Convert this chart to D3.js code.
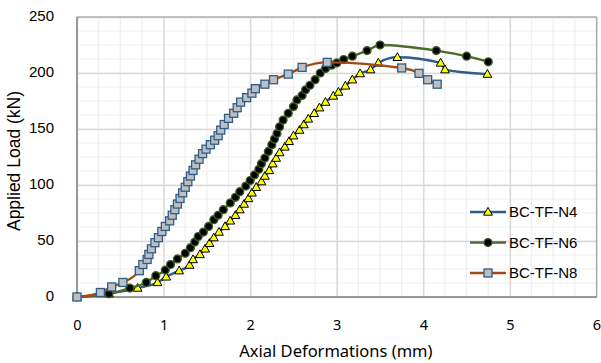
<!DOCTYPE html>
<html>
<head>
<meta charset="utf-8">
<script src="https://cdn.jsdelivr.net/npm/d3@7"></script>
<style>
  body { margin: 0; background: #fff; }
  svg { display: block; }
</style>
</head>
<body>
<div id="chart"></div>
<script>
const seriesNames = ['BC-TF-N4', 'BC-TF-N6', 'BC-TF-N8'];

// axial deformation (mm), applied load (kN)
const n4Def = [0, 0.37, 0.70, 0.93, 1.03, 1.18, 1.30, 1.34, 1.42, 1.48, 1.53, 1.58, 1.64, 1.71, 1.77, 1.83, 1.88, 1.93, 1.98, 2.02, 2.07, 2.13, 2.17, 2.22, 2.26, 2.30, 2.34, 2.40, 2.45, 2.50, 2.57, 2.62, 2.67, 2.74, 2.80, 2.87, 2.96, 3.02, 3.10, 3.18, 3.27, 3.39, 3.48, 3.70, 4.20, 4.25, 4.74];
const n4Load = [0, 3, 8, 13, 18, 23.5, 28.5, 33.5, 38, 43, 48, 53, 58, 63, 68, 73, 78, 83, 88, 93, 98, 103, 108, 113, 119, 124, 129, 134, 139, 144, 149, 154, 159, 164, 169, 174, 179.5, 183, 188.5, 194, 199.5, 203, 209, 214, 209, 203, 199];

const n6Def = [0, 0.37, 0.61, 0.80, 0.91, 1.02, 1.08, 1.16, 1.25, 1.31, 1.36, 1.40, 1.46, 1.52, 1.58, 1.63, 1.69, 1.77, 1.83, 1.88, 1.95, 2.00, 2.05, 2.10, 2.13, 2.17, 2.21, 2.25, 2.28, 2.31, 2.34, 2.38, 2.44, 2.50, 2.54, 2.60, 2.64, 2.69, 2.75, 2.81, 2.87, 2.94, 3.00, 3.08, 3.18, 3.35, 3.50, 4.15, 4.50, 4.75];
const n6Load = [0, 3, 8, 13, 19, 24, 29, 34, 39, 44, 49, 54, 58, 63, 69, 73, 78, 84, 89, 94, 99, 104, 109, 114, 119, 124, 130, 136, 141, 146, 152, 158, 164, 170, 176, 180, 185, 189, 194, 200, 204, 207, 209, 212, 215, 220, 225, 220, 215, 210];

const n8Def = [0, 0.27, 0.40, 0.53, 0.72, 0.76, 0.81, 0.83, 0.86, 0.90, 0.94, 0.98, 1.02, 1.07, 1.10, 1.13, 1.16, 1.19, 1.22, 1.25, 1.28, 1.31, 1.34, 1.37, 1.41, 1.45, 1.49, 1.54, 1.59, 1.63, 1.66, 1.70, 1.75, 1.81, 1.85, 1.89, 1.96, 2.02, 2.06, 2.17, 2.27, 2.44, 2.60, 2.89, 3.75, 3.95, 4.05, 4.16];
const n8Load = [0, 4, 9, 13, 23.5, 29, 33.5, 38, 43, 48.5, 53, 58.5, 63, 68, 73, 78, 83, 88, 93, 98, 103, 108, 113, 118, 123, 128, 132, 136, 140, 144, 149, 154, 159.5, 164, 169, 174, 178, 182, 186, 190, 194, 199, 205, 209.5, 204.5, 199.7, 194, 190];

const xTicks = [0, 1, 2, 3, 4, 5, 6];
const yTicks = [0, 50, 100, 150, 200, 250];

const W = 601, H = 363;
const margin = { top: 17, right: 4.5, bottom: 66, left: 77 };
const width = W - margin.left - margin.right;
const height = H - margin.top - margin.bottom;

const svg = d3.select('#chart')
  .append('svg')
  .attr('width', W)
  .attr('height', H);

const g = svg.append('g')
  .attr('transform', `translate(${margin.left},${margin.top})`);

const x = d3.scaleLinear().domain([0, 6]).range([0, width]);
const y = d3.scaleLinear().domain([0, 250]).range([height, 0]);

// minor grid
g.append('g')
  .selectAll('line')
  .data(d3.range(0, 6.001, 0.25))
  .enter()
  .append('line')
  .attr('x1', d => x(d)).attr('x2', d => x(d))
  .attr('y1', 0).attr('y2', height)
  .attr('stroke', '#efefef').attr('stroke-width', 1.2);

g.append('g')
  .selectAll('line')
  .data(d3.range(0, 250.001, 12.5))
  .enter()
  .append('line')
  .attr('y1', d => y(d)).attr('y2', d => y(d))
  .attr('x1', 0).attr('x2', width)
  .attr('stroke', '#efefef').attr('stroke-width', 1.2);

// major grid
g.append('g')
  .call(d3.axisBottom(x).tickValues(xTicks).tickSize(-height).tickFormat(''))
  .attr('transform', `translate(0,${height})`)
  .call(a => a.select('.domain').remove())
  .call(a => a.selectAll('line').attr('stroke', '#d9d9d9').attr('stroke-width', 1.4));

g.append('g')
  .call(d3.axisLeft(y).tickValues(yTicks).tickSize(-width).tickFormat(''))
  .call(a => a.select('.domain').remove())
  .call(a => a.selectAll('line').attr('stroke', '#d9d9d9').attr('stroke-width', 1.4));

// plot border
g.append('rect')
  .attr('x', 0).attr('y', 0)
  .attr('width', width).attr('height', height)
  .attr('fill', 'none')
  .attr('stroke', '#a6a6a6').attr('stroke-width', 1.2);

g.append('line')
  .attr('x1', 0).attr('x2', 0).attr('y1', 0).attr('y2', height)
  .attr('stroke', '#8c8c8c').attr('stroke-width', 1.5);
g.append('line')
  .attr('x1', 0).attr('x2', width).attr('y1', height).attr('y2', height)
  .attr('stroke', '#8c8c8c').attr('stroke-width', 1.5);

// tick labels
g.append('g')
  .attr('transform', `translate(0,${height})`)
  .call(d3.axisBottom(x).tickValues(xTicks).tickSize(0).tickPadding(23).tickFormat(d3.format('d')))
  .call(a => a.select('.domain').remove())
  .call(a => a.selectAll('text')
    .attr('font-family', '"Noto Sans", sans-serif')
    .attr('font-size', 14.5)
    .attr('fill', '#000'));

g.append('g')
  .call(d3.axisLeft(y).tickValues(yTicks).tickSize(0).tickPadding(23).tickFormat(d3.format('d')))
  .call(a => a.select('.domain').remove())
  .call(a => a.selectAll('text')
    .attr('font-family', '"Liberation Sans", Arial, sans-serif')
    .attr('font-size', 15)
    .attr('dy', '0.2em')
    .attr('fill', '#000'));

// axis titles
svg.append('text')
  .attr('x', margin.left + x(2.99))
  .attr('y', 357)
  .attr('text-anchor', 'middle')
  .attr('font-family', '"Noto Sans", sans-serif')
  .attr('font-size', 16.5)
  .text('Axial Deformations (mm)');

svg.append('text')
  .attr('transform', `translate(20,161) rotate(-90)`)
  .attr('text-anchor', 'middle')
  .attr('font-family', '"Liberation Sans", Arial, sans-serif')
  .attr('font-size', 17.5)
  .text('Applied Load (kN)');

const series = [
  { name: seriesNames[0], def: n4Def, load: n4Load, line: '#2e5d8c', marker: 'triangle' },
  { name: seriesNames[1], def: n6Def, load: n6Load, line: '#4a6b2c', marker: 'circle' },
  { name: seriesNames[2], def: n8Def, load: n8Load, line: '#a04b17', marker: 'square' }
];

const lineGen = d3.line()
  .x(d => x(d[0]))
  .y(d => y(d[1]))
  .curve(d3.curveMonotoneX);

function drawMarker(sel, type) {
  if (type === 'triangle') {
    sel.append('path')
      .attr('d', 'M0,-4.6L4.4,3.2L-4.4,3.2Z')
      .attr('fill', '#ffff00')
      .attr('stroke', '#000')
      .attr('stroke-width', 1);
  } else if (type === 'circle') {
    sel.append('circle')
      .attr('r', 3.9)
      .attr('fill', '#000')
      .attr('stroke', '#3e5e24')
      .attr('stroke-width', 1.4);
  } else {
    sel.append('rect')
      .attr('x', -4).attr('y', -4)
      .attr('width', 8).attr('height', 8)
      .attr('fill', '#bfbfbf')
      .attr('stroke', '#2e5d8c')
      .attr('stroke-width', 1.3);
  }
}

series.forEach(s => {
  const pts = s.def.map((d, i) => [d, s.load[i]]);
  g.append('path')
    .datum(pts)
    .attr('d', lineGen)
    .attr('fill', 'none')
    .attr('stroke', s.line)
    .attr('stroke-width', 2.4);

  g.append('g')
    .selectAll('g')
    .data(pts)
    .enter()
    .append('g')
    .attr('transform', d => `translate(${x(d[0])},${y(d[1])})`)
    .each(function () { drawMarker(d3.select(this), s.marker); });
});

// legend
const legend = svg.append('g').attr('transform', 'translate(470,212)');
series.forEach((s, i) => {
  const row = legend.append('g').attr('transform', `translate(0,${i * 30.5})`);
  row.append('line')
    .attr('x1', 0).attr('x2', 36)
    .attr('stroke', s.line).attr('stroke-width', 2.4);
  drawMarker(row.append('g').attr('transform', 'translate(18,0)'), s.marker);
  row.append('text')
    .attr('x', 39)
    .attr('y', 0)
    .attr('dy', '0.35em')
    .attr('font-family', '"Liberation Sans", Arial, sans-serif')
    .attr('font-size', 15)
    .text(s.name);
});
</script>
</body>
</html>
